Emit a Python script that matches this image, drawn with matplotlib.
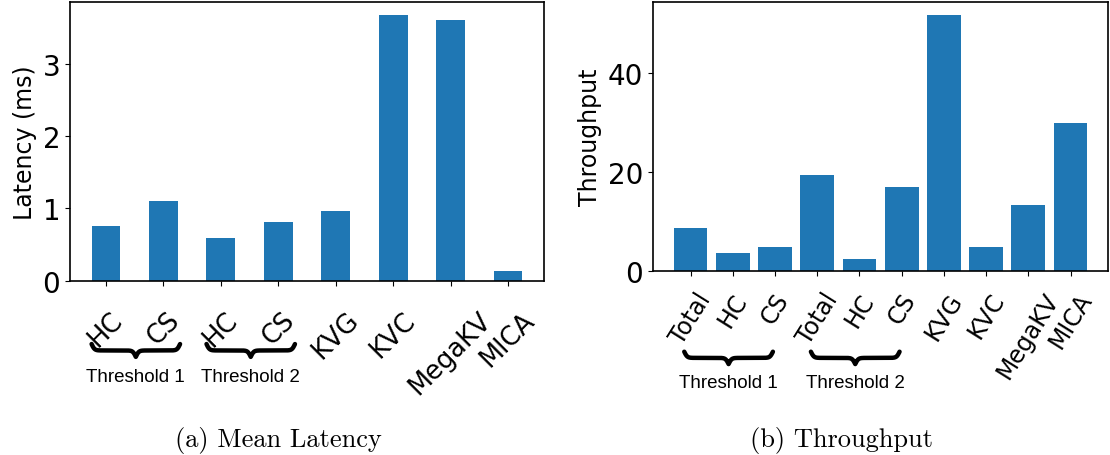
import numpy as np
import matplotlib
matplotlib.use("Agg")
import matplotlib.pyplot as plt
import matplotlib.transforms as mtransforms

# (a) mean latency
lat_labels = ["HC", "CS", "HC", "CS", "KVG", "KVC", "MegaKV", "MICA"]
lat_values = [0.757, 1.11, 0.587, 0.817, 0.972, 3.665, 3.60, 0.142]
lat_yticks = [0, 1, 2, 3]
lat_groups = [("Threshold 1", 0, 1), ("Threshold 2", 2, 3)]

# (b) throughput
thr_labels = ["Total", "HC", "CS", "Total", "HC", "CS", "KVG", "KVC", "MegaKV", "MICA"]
thr_values = [8.7, 3.6, 4.9, 19.5, 2.4, 16.9, 51.8, 4.76, 13.4, 30.0]
thr_yticks = [0, 20, 40]
thr_groups = [("Threshold 1", 0, 2), ("Threshold 2", 3, 5)]

captions = ["(a) Mean Latency", "(b) Throughput"]

BAR_COLOR = "#1f77b4"


def draw_brace(ax, x0, x1, y_top, height, lw=3.2):
    # horizontal curly brace pointing down, x in data units, y in axes fraction
    xspan = x1 - x0
    n = 401
    beta = 60.0 / xspan
    x = np.linspace(x0, x1, n)
    half = x[: n // 2 + 1]
    y_half = 1 / (1 + np.exp(-beta * (half - half[0]))) + 1 / (1 + np.exp(-beta * (half - half[-1])))
    y = np.concatenate((y_half, y_half[-2::-1]))
    y = (y - y.min()) / (y.max() - y.min())
    trans = mtransforms.blended_transform_factory(ax.transData, ax.transAxes)
    ax.plot(x, y_top - y * height, color="black", lw=lw, transform=trans,
            clip_on=False, solid_capstyle="round")


def bar_panel(ax, labels, values, yticks, width, ylabel, rot, label_size, label_pad, groups,
              brace_ext, brace_y, brace_h, text_y):
    xs = np.arange(len(labels))
    ax.bar(xs, values, width=width, color=BAR_COLOR)
    ax.set_xticks(xs)
    ax.set_xticklabels(labels, rotation=rot, fontsize=label_size)
    ax.set_yticks(yticks)
    ax.tick_params(axis="y", labelsize=20)
    ax.tick_params(axis="x", pad=label_pad)
    ax.set_ylabel(ylabel, fontsize=17)
    for spine in ax.spines.values():
        spine.set_linewidth(1.2)
    trans = mtransforms.blended_transform_factory(ax.transData, ax.transAxes)
    for name, i0, i1 in groups:
        left = i0 - brace_ext[0]
        right = i1 + brace_ext[1]
        draw_brace(ax, left, right, brace_y, brace_h)
        ax.text((left + right) / 2, text_y, name, transform=trans, ha="center", va="center",
                fontsize=13.5, family="Liberation Sans")


fig = plt.figure(figsize=(11.1, 4.56), dpi=100)
ax1 = fig.add_axes([0.0631, 0.3816, 0.427, 0.6118])
ax2 = fig.add_axes([0.5883, 0.4035, 0.41, 0.5899])

bar_panel(ax1, lat_labels, lat_values, lat_yticks, 0.5, "Latency (ms)", 45, 18.5, 15,
          lat_groups, (0.25, 0.29), -0.226, 0.046, -0.344)
bar_panel(ax2, thr_labels, thr_values, thr_yticks, 0.8, "Throughput", 58, 17, 9,
          thr_groups, (0.15, -0.05), -0.30, 0.046, -0.416)

fig.text(0.2505, 0.02, captions[0], ha="center", va="baseline", fontsize=19, family="cmr10")
fig.text(0.758, 0.02, captions[1], ha="center", va="baseline", fontsize=19, family="cmr10")

fig.savefig("out.png", dpi=100)
